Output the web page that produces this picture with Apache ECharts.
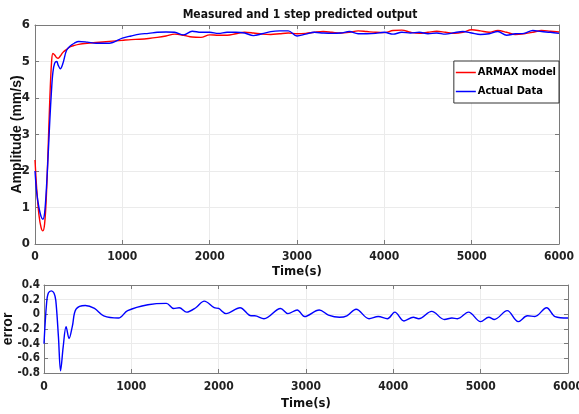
<!DOCTYPE html>
<html>
<head>
<meta charset="utf-8">
<script src="https://cdn.jsdelivr.net/npm/echarts@6/dist/echarts.min.js"></script>
<style>
  html, body { margin: 0; padding: 0; background: #fff; }
  #chart { width: 579px; height: 414px; }
</style>
</head>
<body>
<div id="chart"></div>
<script>
// top plot: time axis and the two outputs
const timeTop = [0, 20, 45, 70, 90, 110, 130, 150, 170, 190, 205, 225, 250, 265, 290, 320, 360, 400, 450, 500, 600, 700, 850,
  1000, 1100, 1200, 1300, 1400, 1500, 1600, 1700, 1800, 1900,
  2000, 2100, 2200, 2300, 2400, 2500, 2600, 2700, 2800, 2900,
  3000, 3100, 3200, 3300, 3400, 3500, 3600, 3700, 3800, 3900,
  4000, 4100, 4200, 4300, 4400, 4500, 4600, 4700, 4800, 4900,
  5000, 5100, 5200, 5300, 5400, 5500, 5600, 5700, 5800, 5900, 6000];

const armaxModel = [2.3, 1.5, 0.8, 0.45, 0.36, 0.55, 1.3, 2.6, 4.0, 5.0, 5.22, 5.18, 5.1, 5.09, 5.15, 5.25, 5.33, 5.4, 5.44, 5.47, 5.5, 5.52, 5.55,
  5.58, 5.6, 5.61, 5.63, 5.66, 5.7, 5.75, 5.72, 5.67, 5.66,
  5.73, 5.72, 5.72, 5.76, 5.8, 5.78, 5.75, 5.74, 5.76, 5.78,
  5.76, 5.77, 5.8, 5.82, 5.8, 5.78, 5.8, 5.84, 5.82, 5.8,
  5.79, 5.85, 5.86, 5.8, 5.77, 5.8, 5.83, 5.8, 5.77, 5.8,
  5.87, 5.84, 5.8, 5.85, 5.8, 5.74, 5.76, 5.8, 5.85, 5.83, 5.81];

const actualData = [2.0, 1.4, 1.0, 0.75, 0.68, 0.85, 1.5, 2.4, 3.4, 4.25, 4.7, 4.95, 5.0, 4.9, 4.8, 4.95, 5.3, 5.42, 5.5, 5.55, 5.53, 5.5, 5.5,
  5.64, 5.7, 5.75, 5.77, 5.8, 5.81, 5.8, 5.73, 5.83, 5.8,
  5.8, 5.77, 5.8, 5.8, 5.78, 5.71, 5.76, 5.82, 5.84, 5.84,
  5.7, 5.75, 5.8, 5.78, 5.77, 5.78, 5.82, 5.76, 5.76, 5.77,
  5.8, 5.75, 5.8, 5.78, 5.8, 5.76, 5.78, 5.75, 5.79, 5.82,
  5.78, 5.74, 5.76, 5.82, 5.72, 5.76, 5.77, 5.85, 5.82, 5.8, 5.77];

// bottom plot: error
const timeErr = [0, 30, 50, 84, 114, 135, 165, 190, 220, 253, 287, 325, 367, 473, 578, 684, 852, 958, 1190, 1401,
  1485, 1549, 1633, 1738, 1835, 1949, 2000, 2084, 2245, 2371, 2413, 2519, 2709, 2793, 2899, 2983, 3152, 3257, 3384, 3468,
  3574, 3722, 3827, 3932, 4017, 4122, 4228, 4291, 4439, 4586, 4671, 4734, 4861, 5000, 5093, 5156, 5304, 5430, 5536, 5620,
  5755, 5852, 6000];

const errorData = [-0.4, 0.16, 0.29, 0.32, 0.29, 0.19, -0.3, -0.77, -0.44, -0.17, -0.33, -0.16, 0.07, 0.12, 0.08, -0.02, -0.05, 0.05, 0.13, 0.15,
  0.08, 0.09, 0.03, 0.09, 0.18, 0.09, 0.08, 0.01, 0.09, -0.02, -0.02, -0.06, 0.08, 0.01, 0.06, -0.03, 0.06, -0.01, -0.04, -0.02,
  0.07, -0.06, -0.03, -0.06, 0.03, -0.09, -0.04, -0.06, 0.04, -0.07, -0.05, -0.06, 0.03, -0.1, -0.04, -0.07, 0.05, -0.1, -0.02, -0.03,
  0.09, -0.03, -0.05];

const narrow = '"DejaVu Sans Condensed", "Liberation Sans Narrow", sans-serif';
const axisColor = '#7a7a7a';
const gridColor = '#ebebeb';

const pairs = (xs, ys) => xs.map((x, i) => [x, ys[i]]);

const tickLabel = {
  color: '#222',
  fontFamily: narrow,
  fontWeight: 'bold',
  fontSize: 12
};

// main axis with labels
const mainX = (gridIndex, margin, nameGap) => ({
  type: 'value',
  gridIndex: gridIndex,
  min: 0,
  max: 6000,
  interval: 1000,
  name: 'Time(s)',
  nameLocation: 'middle',
  nameGap: nameGap,
  nameMoveOverlap: false,
  nameTextStyle: { color: '#111', fontFamily: narrow, fontWeight: 'bold', fontSize: 13 },
  axisLine: { show: true, onZero: false, lineStyle: { color: axisColor } },
  axisTick: { inside: true, length: 4, lineStyle: { color: axisColor } },
  axisLabel: Object.assign({ margin: margin, formatter: (v) => String(v) }, tickLabel),
  splitLine: { show: true, lineStyle: { color: gridColor } }
});

// extra axes only for the box and the inner ticks
const boxX = (gridIndex) => ({
  type: 'value',
  gridIndex: gridIndex,
  position: 'top',
  min: 0,
  max: 6000,
  interval: 1000,
  axisLine: { show: true, onZero: false, lineStyle: { color: axisColor } },
  axisTick: { inside: true, length: 4, lineStyle: { color: axisColor } },
  axisLabel: { show: false },
  splitLine: { show: false }
});

const boxY = (gridIndex, min, max, interval) => ({
  type: 'value',
  gridIndex: gridIndex,
  position: 'right',
  min: min,
  max: max,
  interval: interval,
  axisLine: { show: true, onZero: false, lineStyle: { color: axisColor } },
  axisTick: { show: true, inside: true, length: 4, lineStyle: { color: axisColor } },
  axisLabel: { show: false },
  splitLine: { show: false }
});

const myChart = echarts.init(document.getElementById('chart'));

const option = {
  backgroundColor: '#fff',
  animation: false,
  title: {
    text: 'Measured and 1 step predicted output',
    left: 295,
    textAlign: 'center',
    top: 4,
    textStyle: { color: '#111', fontFamily: narrow, fontWeight: 'bold', fontSize: 12 }
  },
  legend: {
    data: ['ARMAX model', 'Actual Data'],
    orient: 'vertical',
    right: 20,
    top: 61,
    icon: 'rect',
    backgroundColor: '#fff',
    borderColor: '#333',
    borderWidth: 1,
    borderRadius: 0,
    padding: [6, 3, 6, 2],
    itemGap: 8,
    itemWidth: 20,
    itemHeight: 1.5,
    textStyle: { color: '#000', fontFamily: narrow, fontWeight: 'bold', fontSize: 11, padding: [0, 0, 0, -3] }
  },
  grid: [
    { left: 35, right: 20, top: 25, height: 219, outerBoundsMode: 'none' },
    { left: 44, right: 11, top: 285, height: 88, outerBoundsMode: 'none' }
  ],
  xAxis: [
    mainX(0, 7, 21),
    boxX(0),
    mainX(1, 8, 24),
    boxX(1)
  ],
  yAxis: [
    {
      type: 'value',
      gridIndex: 0,
      min: 0,
      max: 6,
      interval: 1,
      name: 'Amplitude (mm/s)',
      nameLocation: 'middle',
      nameRotate: 90,
      nameGap: 11,
      nameMoveOverlap: false,
      nameTextStyle: { color: '#111', fontFamily: '"Liberation Sans", Arial, sans-serif', fontWeight: 'bold', fontSize: 14 },
      axisLine: { show: true, onZero: false, lineStyle: { color: axisColor } },
      axisTick: { show: true, inside: true, length: 4, lineStyle: { color: axisColor } },
      axisLabel: Object.assign({ margin: 5 }, tickLabel, { fontSize: 13 }),
      splitLine: { show: true, lineStyle: { color: gridColor } }
    },
    boxY(0, 0, 6, 1),
    {
      type: 'value',
      gridIndex: 1,
      min: -0.8,
      max: 0.4,
      interval: 0.2,
      name: 'error',
      nameLocation: 'middle',
      nameRotate: 90,
      nameGap: 29,
      nameMoveOverlap: false,
      nameTextStyle: { color: '#111', fontFamily: '"Liberation Sans", Arial, sans-serif', fontWeight: 'bold', fontSize: 14 },
      axisLine: { show: true, onZero: false, lineStyle: { color: axisColor } },
      axisTick: { show: true, inside: true, length: 4, lineStyle: { color: axisColor } },
      axisLabel: Object.assign({
        margin: 4,
        formatter: (v) => String(Math.round(v * 10) / 10)
      }, tickLabel, { fontSize: 11.5 }),
      splitLine: { show: true, lineStyle: { color: gridColor } }
    },
    boxY(1, -0.8, 0.4, 0.2)
  ],
  series: [
    {
      name: 'ARMAX model',
      type: 'line',
      xAxisIndex: 0,
      yAxisIndex: 0,
      symbol: 'none',
      smooth: 0.35,
      data: pairs(timeTop, armaxModel),
      lineStyle: { color: '#ff0000', width: 1.4 },
      itemStyle: { color: '#ff0000' },
      z: 3
    },
    {
      name: 'Actual Data',
      type: 'line',
      xAxisIndex: 0,
      yAxisIndex: 0,
      symbol: 'none',
      smooth: 0.35,
      data: pairs(timeTop, actualData),
      lineStyle: { color: '#0000ff', width: 1.4 },
      itemStyle: { color: '#0000ff' },
      z: 4
    },
    {
      name: 'error',
      type: 'line',
      xAxisIndex: 2,
      yAxisIndex: 2,
      symbol: 'none',
      smooth: 0.35,
      data: pairs(timeErr, errorData),
      lineStyle: { color: '#0000ff', width: 1.4 },
      itemStyle: { color: '#0000ff' }
    }
  ]
};

myChart.setOption(option);

window.addEventListener('resize', () => {
  myChart.resize();
});
</script>
</body>
</html>
